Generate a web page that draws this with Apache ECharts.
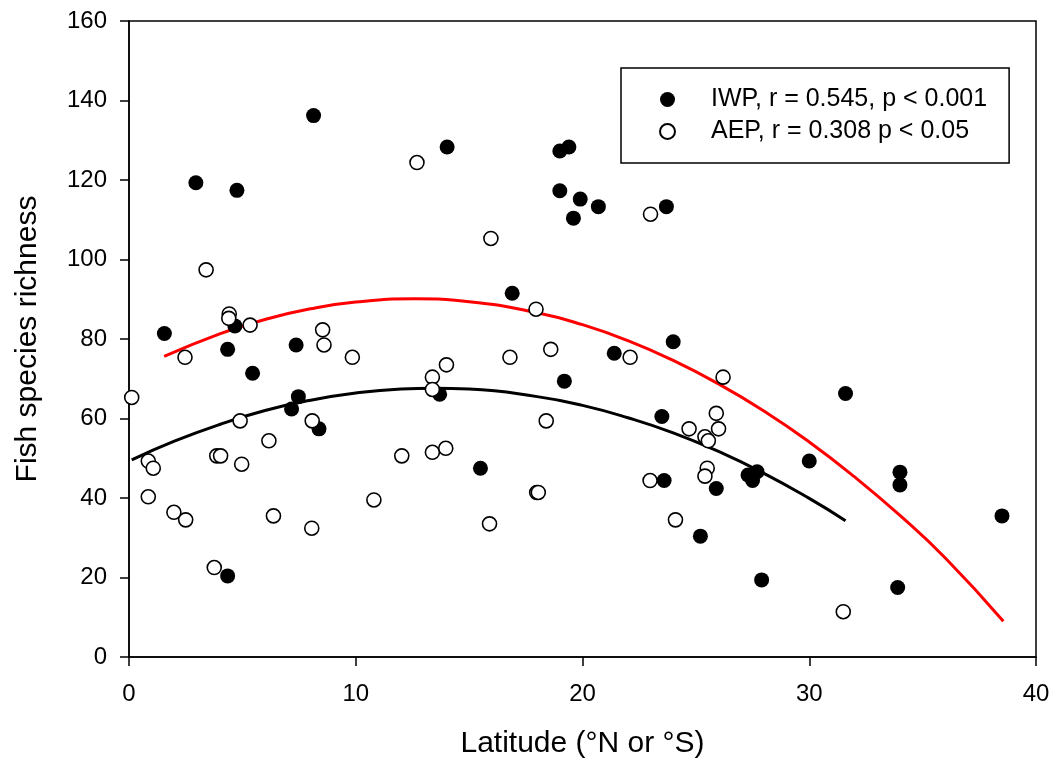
<!DOCTYPE html>
<html>
<head>
<meta charset="utf-8">
<script src="https://cdn.jsdelivr.net/npm/echarts@6/dist/echarts.min.js"></script>
<style>
  html, body { margin: 0; padding: 0; background: #fff; }
  #chart { width: 1055px; height: 765px; }
</style>
</head>
<body>
<div id="chart"></div>
<script>
// IWP points [latitude, richness]
const iwpPoints = [
  [2.95, 119.3], [4.76, 117.4], [8.14, 136.2], [14.03, 128.3], [19.0, 127.3], [19.4, 128.3],
  [19.0, 117.3], [19.9, 115.2], [20.7, 113.3], [19.6, 110.4], [23.7, 113.3], [16.9, 91.5],
  [24.0, 79.3], [21.4, 76.4], [19.2, 69.4], [13.7, 66.1], [23.5, 60.5], [15.5, 47.5],
  [23.6, 44.4], [25.9, 42.4], [27.3, 45.8], [27.7, 46.6], [27.5, 44.4], [25.2, 30.4],
  [27.9, 19.4], [31.6, 66.3], [30.0, 49.3], [34.0, 46.5], [34.0, 43.3], [38.5, 35.5],
  [33.9, 17.5], [1.56, 81.4], [4.67, 83.3], [4.35, 77.4], [7.37, 78.5], [5.45, 71.4],
  [7.47, 65.5], [7.17, 62.4], [8.38, 57.4], [4.35, 20.4]
];

// AEP points [latitude, richness]
const aepPoints = [
  [12.7, 124.4], [3.4, 97.4], [4.42, 86.3], [4.4, 85.2], [5.34, 83.5], [8.54, 82.3],
  [8.6, 78.5], [2.47, 75.4], [9.85, 75.4], [0.12, 65.3], [13.38, 70.4], [13.38, 67.3],
  [4.9, 59.4], [8.08, 59.4], [6.17, 54.4], [0.85, 49.3], [1.07, 47.5], [3.87, 50.6],
  [4.04, 50.6], [4.97, 48.5], [12.03, 50.6], [13.38, 51.5], [13.97, 52.5], [0.85, 40.3],
  [1.98, 36.4], [2.5, 34.5], [10.8, 39.5], [6.37, 35.5], [8.06, 32.4], [3.76, 22.5],
  [15.96, 105.3], [23.0, 111.4], [17.95, 87.5], [18.6, 77.4], [16.8, 75.4], [22.1, 75.4],
  [26.2, 70.4], [14.0, 73.5], [18.4, 59.4], [25.9, 61.3], [26.0, 57.4], [24.7, 57.4],
  [25.4, 55.4], [25.55, 54.4], [17.98, 41.4], [18.05, 41.4], [22.98, 44.4], [25.5, 47.5],
  [25.4, 45.5], [15.9, 33.5], [24.1, 34.5], [31.5, 11.4]
];

// fitted curves
const iwpFit = [
  [1.55, 75.6], [4, 81.3], [6, 84.9], [8, 87.6], [10, 89.3], [12.6, 90.1], [15, 89.4],
  [18, 86.6], [20, 83.6], [22, 79.6], [24, 74.6], [26, 68.7], [28, 61.9], [30, 54.1],
  [32, 45.3], [34, 35.6], [36, 24.9], [38.56, 9.0]
];
const aepFit = [
  [0.12, 49.6], [2, 54.3], [4, 58.5], [6, 62.0], [8, 64.6], [10, 66.4], [12, 67.4],
  [13.46, 67.6], [15, 67.4], [18, 65.5], [20, 63.3], [22, 60.2], [24, 56.4], [26, 51.7],
  [28, 46.2], [30, 39.9], [31.6, 34.3]
];

const legendNames = ['IWP, r = 0.545, p < 0.001', 'AEP, r = 0.308 p < 0.05'];

const chart = echarts.init(document.getElementById('chart'));

const font = 'Liberation Sans, Arial, sans-serif';

const option = {
  animation: false,
  textStyle: { fontFamily: font, color: '#000' },
  grid: {
    left: 129,
    right: 19,
    top: 21,
    bottom: 108,
    show: true,
    borderColor: '#000',
    borderWidth: 1.5,
    backgroundColor: 'transparent'
  },
  legend: {
    orient: 'vertical',
    left: 621,
    top: 68,
    padding: [19, 22, 19, 38],
    itemGap: 7,
    itemWidth: 15,
    itemHeight: 15,
    borderColor: '#000',
    borderWidth: 1.5,
    textStyle: { fontSize: 25, fontFamily: font, color: '#000', padding: [0, 0, 0, 31] },
    data: [
      { name: legendNames[0], icon: 'circle' },
      { name: legendNames[1], icon: 'circle' }
    ]
  },
  xAxis: {
    type: 'value',
    min: 0,
    max: 40,
    interval: 10,
    name: 'Latitude (°N or °S)',
    nameLocation: 'middle',
    nameGap: 72,
    nameTextStyle: { fontSize: 30, fontFamily: font, color: '#000' },
    axisLine: { show: true, lineStyle: { color: '#000', width: 1.5 } },
    axisTick: { show: true, inside: false, length: 9, lineStyle: { color: '#000', width: 1.5 } },
    axisLabel: { fontSize: 24, color: '#000', margin: 25, fontFamily: font },
    splitLine: { show: false }
  },
  yAxis: {
    type: 'value',
    min: 0,
    max: 160,
    interval: 20,
    name: 'Fish species richness',
    nameLocation: 'middle',
    nameGap: 86,
    nameTextStyle: { fontSize: 30, fontFamily: font, color: '#000' },
    axisLine: { show: true, lineStyle: { color: '#000', width: 1.5 } },
    axisTick: { show: true, inside: false, length: 9, lineStyle: { color: '#000', width: 1.5 } },
    axisLabel: { fontSize: 24, color: '#000', margin: 22, fontFamily: font },
    splitLine: { show: false }
  },
  series: [
    {
      name: 'IWP fit',
      type: 'line',
      data: iwpFit,
      smooth: true,
      showSymbol: false,
      lineStyle: { color: '#ff0000', width: 3 },
      z: 1
    },
    {
      name: 'AEP fit',
      type: 'line',
      data: aepFit,
      smooth: true,
      showSymbol: false,
      lineStyle: { color: '#000', width: 3 },
      z: 1
    },
    {
      name: legendNames[0],
      type: 'scatter',
      data: iwpPoints,
      symbol: 'circle',
      symbolSize: 15,
      itemStyle: { color: '#000', opacity: 1 },
      z: 3
    },
    {
      name: legendNames[1],
      type: 'scatter',
      data: aepPoints,
      symbol: 'circle',
      symbolSize: 14,
      itemStyle: { color: '#fff', borderColor: '#000', borderWidth: 1.6, opacity: 1 },
      z: 4
    }
  ]
};

chart.setOption(option);
</script>
</body>
</html>
